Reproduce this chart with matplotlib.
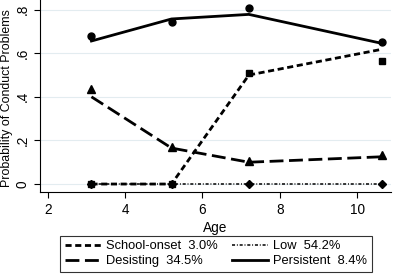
import matplotlib
matplotlib.use("Agg")
import matplotlib.pyplot as plt

plt.rcParams['font.family'] = ['Liberation Sans', 'DejaVu Sans']

# --- data ---
age = [3.13, 5.2, 7.2, 10.64]

school_obs = [0.0, 0.0, 0.51, 0.565]
school_fit = [0.0, 0.0, 0.50, 0.618]
desist_obs = [0.435, 0.17, 0.107, 0.133]
desist_fit = [0.40, 0.165, 0.10, 0.125]
low_obs = [0.0, 0.0, 0.0, 0.0]
low_fit = [0.0, 0.0, 0.0, 0.0]
persist_obs = [0.68, 0.743, 0.807, 0.65]
persist_fit = [0.656, 0.757, 0.778, 0.645]

labels = ['School-onset  3.0%', 'Desisting  34.5%', 'Low  54.2%', 'Persistent  8.4%']
xticks = [2, 4, 6, 8, 10]
yticks = [0, 0.2, 0.4, 0.6, 0.8]
yticklabels = ['0', '.2', '.4', '.6', '.8']

fig = plt.figure(figsize=(3.94, 2.78), dpi=100)
ax = fig.add_axes([0.1015, 0.309, 0.8905, 0.691])

for y in yticks:
    ax.axhline(y, color='#e3ecf0', lw=0.8, zorder=0)

h1, = ax.plot(age, school_fit, color='black', lw=2, ls=(0, (2.2, 1.3)))
h2, = ax.plot(age, desist_fit, color='black', lw=2, ls=(0, (5, 2)))
h3, = ax.plot(age, low_fit, color='black', lw=1.1, ls=(0, (2, 1.2, 0.6, 1.2)))
h4, = ax.plot(age, persist_fit, color='black', lw=2, ls='-')

ax.plot(age, school_obs, 's', color='black', ms=5)
ax.plot(age, desist_obs, '^', color='black', ms=5.5)
ax.plot(age, low_obs, 'D', color='black', ms=4.5)
ax.plot(age, persist_obs, 'o', color='black', ms=5)

ax.set_xlim(1.8, 10.87)
ax.set_ylim(-0.037, 0.844)
ax.set_xticks(xticks)
ax.set_yticks(yticks)
ax.set_yticklabels(yticklabels, rotation=90, va='center')
ax.tick_params(labelsize=9.8, length=4, width=0.8)
ax.spines['top'].set_visible(False)
ax.spines['right'].set_visible(False)
ax.set_xlabel('Age', fontsize=9.8, labelpad=3)
ax.set_ylabel('Probability of Conduct Problems', fontsize=8.9)
ax.yaxis.set_label_coords(-0.076, 0.49)

leg = fig.legend([h1, h2, h3, h4], labels, ncol=2, loc='lower center',
                 bbox_to_anchor=(0.548, 0.0), fontsize=9.3, frameon=True,
                 fancybox=False, edgecolor='black', handlelength=2.8,
                 columnspacing=1.1, borderpad=0.35, labelspacing=0.2,
                 handletextpad=0.4)
leg.get_frame().set_linewidth(0.8)

fig.savefig('out.png', dpi=100)
